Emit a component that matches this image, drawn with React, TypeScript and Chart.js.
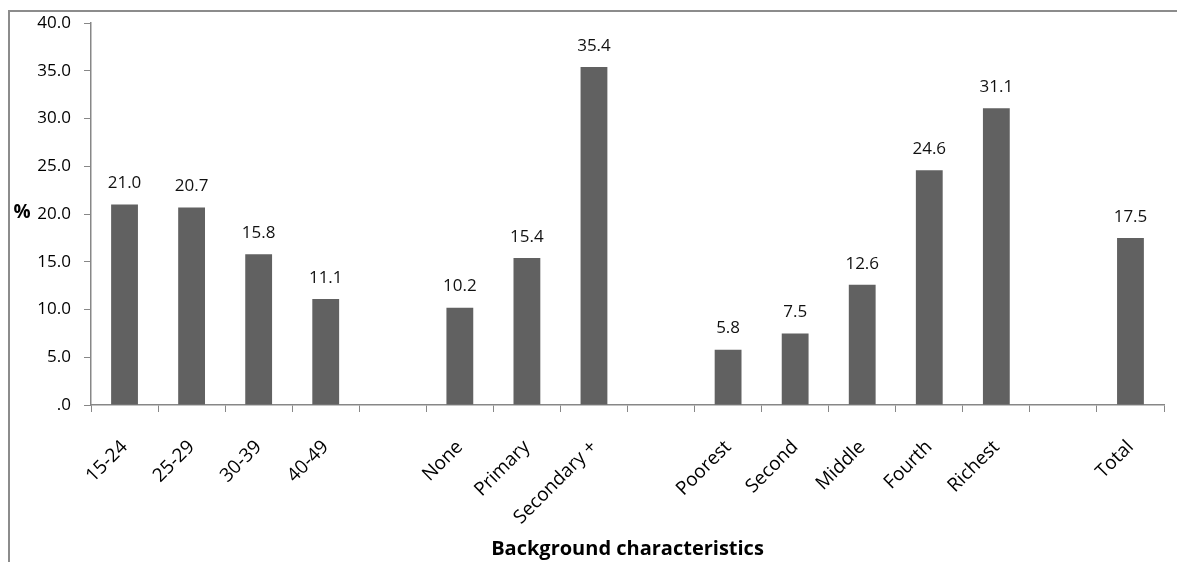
import React, { useEffect, useRef } from "react";
import { Chart, registerables } from "chart.js";

Chart.register(...registerables);

const categories: string[] = [
  "15-24", "25-29", "30-39", "40-49", "",
  "None", "Primary", "Secondary +", "",
  "Poorest", "Second", "Middle", "Fourth", "Richest", "",
  "Total",
];
const values: (number | null)[] = [
  21.0, 20.7, 15.8, 11.1, null,
  10.2, 15.4, 35.4, null,
  5.8, 7.5, 12.6, 24.6, 31.1, null,
  17.5,
];
const yMin = 0;
const yMax = 40;
const yStep = 5;
const xTitle = "Background characteristics";
const yTitle = "%";

const FONT = "'Open Sans', 'DejaVu Sans', sans-serif";
const AXIS = "#878787";

const decor = {
  id: "decor",
  beforeDraw(chart: any) {
    const ctx = chart.ctx;
    ctx.save();
    ctx.fillStyle = "#ffffff";
    ctx.fillRect(0, 0, chart.width, chart.height);
    ctx.strokeStyle = "#8c8c8c";
    ctx.lineWidth = 2;
    ctx.beginPath();
    ctx.moveTo(9, chart.height);
    ctx.lineTo(9, 11);
    ctx.lineTo(chart.width, 11);
    ctx.stroke();
    ctx.restore();
  },
  afterDatasetsDraw(chart: any) {
    const ctx = chart.ctx;
    ctx.save();
    ctx.font = `17px ${FONT}`;
    ctx.fillStyle = "#111111";
    ctx.textAlign = "center";
    ctx.textBaseline = "middle";
    const meta = chart.getDatasetMeta(0);
    meta.data.forEach((bar: any, i: number) => {
      const v = values[i];
      if (v === null || v === undefined) return;
      ctx.fillText(v.toFixed(1), bar.x, bar.y - 21);
    });
    ctx.font = `bold 19px ${FONT}`;
    ctx.fillStyle = "#000000";
    ctx.fillText(yTitle, 22, 213);
    ctx.restore();
  },
};

export default function App() {
  const ref = useRef<HTMLCanvasElement | null>(null);
  useEffect(() => {
    if (!ref.current) return;
    const chart = new Chart(ref.current, {
      type: "bar",
      data: {
        labels: categories,
        datasets: [
          {
            data: values,
            backgroundColor: "#616161",
            borderWidth: 0,
            barPercentage: 0.4,
            categoryPercentage: 1.0,
          },
        ],
      },
      options: {
        animation: false,
        responsive: false,
        maintainAspectRatio: false,
        layout: { padding: { left: 0, top: 22, right: 13, bottom: 0 } },
        plugins: {
          legend: { display: false },
          tooltip: { enabled: false },
        },
        scales: {
          x: {
            offset: true,
            grid: {
              display: true,
              drawOnChartArea: false,
              drawTicks: true,
              tickLength: 7,
              color: AXIS,
              lineWidth: 1,
              offset: true,
            },
            border: { display: true, color: AXIS, width: 1.5 },
            ticks: {
              autoSkip: false,
              minRotation: 45,
              maxRotation: 45,
              padding: 24,
              color: "#000000",
              font: { family: FONT, size: 19 },
            },
            title: {
              display: true,
              text: xTitle,
              color: "#000000",
              font: { family: FONT, size: 20, weight: "bold" },
              padding: { top: 0, bottom: 1 },
            },
            afterFit(scale: any) {
              scale.height = 157;
            },
          },
          y: {
            min: yMin,
            max: yMax,
            grid: {
              display: true,
              drawOnChartArea: false,
              drawTicks: true,
              tickLength: 7,
              color: AXIS,
              lineWidth: 1,
            },
            border: { display: true, color: AXIS, width: 1.5 },
            ticks: {
              stepSize: yStep,
              padding: 13,
              color: "#000000",
              font: { family: FONT, size: 17 },
              callback: (v: any) => {
                const n = Number(v);
                return n === 0 ? ".0" : n.toFixed(1);
              },
            },
            afterFit(scale: any) {
              scale.width = 91;
            },
          },
        },
      },
      plugins: [decor],
    });
    return () => chart.destroy();
  }, []);
  return (
    <div style={{ position: "fixed", left: 0, top: 0, width: 1177, height: 562, background: "#fff" }}>
      <canvas ref={ref} width={1177} height={562} style={{ display: "block", width: 1177, height: 562 }} />
    </div>
  );
}
